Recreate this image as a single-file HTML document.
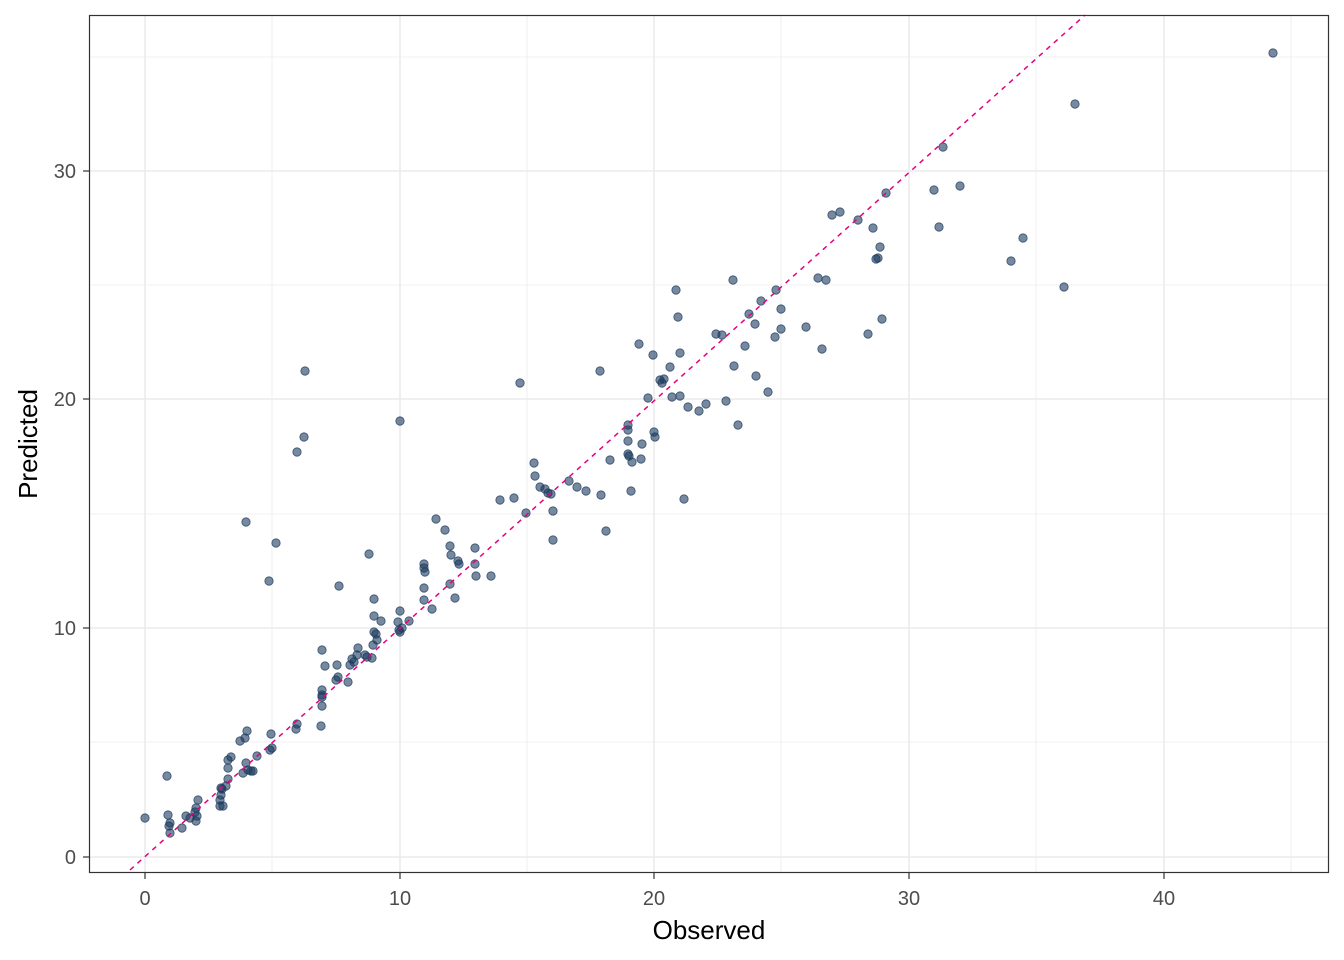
<!DOCTYPE html>
<html><head><meta charset="utf-8"><style>body{margin:0;background:#fff}svg{display:block;font-family:"Liberation Sans",sans-serif}</style></head><body>
<svg width="1344" height="960" xmlns="http://www.w3.org/2000/svg">
<rect width="1344" height="960" fill="#fff"/>
<g stroke="#ebebeb" stroke-width="0.8">
<line x1="272" x2="272" y1="15" y2="873"/><line x1="527" x2="527" y1="15" y2="873"/><line x1="781" x2="781" y1="15" y2="873"/><line x1="1036" x2="1036" y1="15" y2="873"/><line x1="1291" x2="1291" y1="15" y2="873"/>
<line x1="89" x2="1329" y1="742" y2="742"/><line x1="89" x2="1329" y1="514" y2="514"/><line x1="89" x2="1329" y1="285" y2="285"/><line x1="89" x2="1329" y1="57" y2="57"/>
</g>
<g stroke="#ebebeb" stroke-width="1.6">
<line x1="145" x2="145" y1="15" y2="873"/><line x1="400" x2="400" y1="15" y2="873"/><line x1="654" x2="654" y1="15" y2="873"/><line x1="909" x2="909" y1="15" y2="873"/><line x1="1164" x2="1164" y1="15" y2="873"/>
<line x1="89" x2="1329" y1="857" y2="857"/><line x1="89" x2="1329" y1="628" y2="628"/><line x1="89" x2="1329" y1="399" y2="399"/><line x1="89" x2="1329" y1="171" y2="171"/>
</g>
<g fill="#1b3a5e" fill-opacity="0.6" stroke="#1b3a5e" stroke-opacity="0.8" stroke-width="0.8">
<circle cx="145" cy="818" r="4.2"/><circle cx="167" cy="776" r="4.2"/><circle cx="168" cy="815" r="4.2"/><circle cx="170" cy="823" r="4.2"/><circle cx="170" cy="833" r="4.2"/><circle cx="169" cy="826" r="4.2"/><circle cx="182" cy="828" r="4.2"/><circle cx="186" cy="816" r="4.2"/><circle cx="190" cy="818" r="4.2"/><circle cx="195" cy="812" r="4.2"/><circle cx="196" cy="821" r="4.2"/><circle cx="197" cy="816" r="4.2"/><circle cx="198" cy="800" r="4.2"/><circle cx="196" cy="808" r="4.2"/>
<circle cx="220" cy="806" r="4.2"/><circle cx="221" cy="795" r="4.2"/><circle cx="222" cy="789" r="4.2"/><circle cx="220" cy="800" r="4.2"/><circle cx="223" cy="806" r="4.2"/><circle cx="221" cy="788" r="4.2"/><circle cx="226" cy="786" r="4.2"/><circle cx="228" cy="760" r="4.2"/><circle cx="228" cy="768" r="4.2"/><circle cx="228" cy="779" r="4.2"/><circle cx="231" cy="757" r="4.2"/><circle cx="240" cy="741" r="4.2"/><circle cx="245" cy="738" r="4.2"/><circle cx="247" cy="731" r="4.2"/><circle cx="246" cy="763" r="4.2"/><circle cx="243" cy="773" r="4.2"/><circle cx="248" cy="770" r="4.2"/><circle cx="251" cy="771" r="4.2"/><circle cx="253" cy="771" r="4.2"/><circle cx="257" cy="756" r="4.2"/><circle cx="271" cy="734" r="4.2"/><circle cx="270" cy="750" r="4.2"/><circle cx="272" cy="748" r="4.2"/><circle cx="246" cy="522" r="4.2"/><circle cx="269" cy="581" r="4.2"/><circle cx="276" cy="543" r="4.2"/><circle cx="297" cy="724" r="4.2"/><circle cx="296" cy="729" r="4.2"/><circle cx="297" cy="452" r="4.2"/><circle cx="304" cy="437" r="4.2"/><circle cx="305" cy="371" r="4.2"/>
<circle cx="322" cy="650" r="4.2"/><circle cx="322" cy="690" r="4.2"/><circle cx="322" cy="695" r="4.2"/><circle cx="322" cy="697" r="4.2"/><circle cx="322" cy="706" r="4.2"/><circle cx="321" cy="726" r="4.2"/><circle cx="325" cy="666" r="4.2"/><circle cx="337" cy="665" r="4.2"/><circle cx="336" cy="680" r="4.2"/><circle cx="338" cy="677" r="4.2"/><circle cx="339" cy="586" r="4.2"/><circle cx="348" cy="682" r="4.2"/><circle cx="350" cy="665" r="4.2"/><circle cx="352" cy="659" r="4.2"/><circle cx="354" cy="662" r="4.2"/><circle cx="357" cy="655" r="4.2"/><circle cx="358" cy="648" r="4.2"/><circle cx="365" cy="655" r="4.2"/><circle cx="369" cy="554" r="4.2"/><circle cx="367" cy="657" r="4.2"/><circle cx="372" cy="658" r="4.2"/><circle cx="373" cy="645" r="4.2"/><circle cx="374" cy="632" r="4.2"/><circle cx="374" cy="599" r="4.2"/><circle cx="374" cy="616" r="4.2"/><circle cx="376" cy="634" r="4.2"/><circle cx="377" cy="640" r="4.2"/><circle cx="381" cy="621" r="4.2"/><circle cx="398" cy="622" r="4.2"/><circle cx="399" cy="630" r="4.2"/><circle cx="400" cy="632" r="4.2"/><circle cx="402" cy="628" r="4.2"/><circle cx="400" cy="611" r="4.2"/><circle cx="400" cy="421" r="4.2"/><circle cx="409" cy="621" r="4.2"/><circle cx="424" cy="600" r="4.2"/><circle cx="424" cy="588" r="4.2"/><circle cx="425" cy="572" r="4.2"/><circle cx="424" cy="564" r="4.2"/><circle cx="424" cy="568" r="4.2"/><circle cx="432" cy="609" r="4.2"/><circle cx="436" cy="519" r="4.2"/><circle cx="445" cy="530" r="4.2"/><circle cx="450" cy="546" r="4.2"/><circle cx="451" cy="555" r="4.2"/><circle cx="450" cy="584" r="4.2"/><circle cx="455" cy="598" r="4.2"/><circle cx="458" cy="561" r="4.2"/><circle cx="459" cy="564" r="4.2"/><circle cx="475" cy="548" r="4.2"/><circle cx="475" cy="564" r="4.2"/><circle cx="476" cy="576" r="4.2"/><circle cx="491" cy="576" r="4.2"/><circle cx="500" cy="500" r="4.2"/><circle cx="514" cy="498" r="4.2"/><circle cx="520" cy="383" r="4.2"/><circle cx="526" cy="513" r="4.2"/><circle cx="534" cy="463" r="4.2"/><circle cx="535" cy="476" r="4.2"/><circle cx="540" cy="487" r="4.2"/><circle cx="545" cy="489" r="4.2"/><circle cx="548" cy="493" r="4.2"/><circle cx="551" cy="494" r="4.2"/><circle cx="553" cy="540" r="4.2"/><circle cx="553" cy="511" r="4.2"/><circle cx="569" cy="481" r="4.2"/><circle cx="577" cy="487" r="4.2"/><circle cx="586" cy="491" r="4.2"/><circle cx="600" cy="371" r="4.2"/><circle cx="601" cy="495" r="4.2"/><circle cx="606" cy="531" r="4.2"/><circle cx="610" cy="460" r="4.2"/><circle cx="628" cy="454" r="4.2"/><circle cx="628" cy="425" r="4.2"/><circle cx="628" cy="430" r="4.2"/><circle cx="628" cy="441" r="4.2"/><circle cx="629" cy="456" r="4.2"/><circle cx="632" cy="462" r="4.2"/><circle cx="631" cy="491" r="4.2"/><circle cx="639" cy="344" r="4.2"/><circle cx="641" cy="459" r="4.2"/><circle cx="642" cy="444" r="4.2"/><circle cx="648" cy="398" r="4.2"/><circle cx="653" cy="355" r="4.2"/><circle cx="654" cy="432" r="4.2"/><circle cx="655" cy="437" r="4.2"/><circle cx="660" cy="380" r="4.2"/><circle cx="662" cy="383" r="4.2"/><circle cx="664" cy="379" r="4.2"/><circle cx="670" cy="367" r="4.2"/><circle cx="672" cy="397" r="4.2"/><circle cx="676" cy="290" r="4.2"/><circle cx="678" cy="317" r="4.2"/><circle cx="680" cy="353" r="4.2"/><circle cx="680" cy="396" r="4.2"/><circle cx="684" cy="499" r="4.2"/><circle cx="688" cy="407" r="4.2"/><circle cx="699" cy="411" r="4.2"/><circle cx="706" cy="404" r="4.2"/><circle cx="716" cy="334" r="4.2"/><circle cx="722" cy="335" r="4.2"/><circle cx="726" cy="401" r="4.2"/><circle cx="733" cy="280" r="4.2"/><circle cx="734" cy="366" r="4.2"/><circle cx="738" cy="425" r="4.2"/><circle cx="745" cy="346" r="4.2"/><circle cx="749" cy="314" r="4.2"/><circle cx="755" cy="324" r="4.2"/><circle cx="756" cy="376" r="4.2"/><circle cx="761" cy="301" r="4.2"/><circle cx="768" cy="392" r="4.2"/><circle cx="775" cy="337" r="4.2"/><circle cx="776" cy="290" r="4.2"/><circle cx="781" cy="309" r="4.2"/><circle cx="781" cy="329" r="4.2"/><circle cx="806" cy="327" r="4.2"/><circle cx="818" cy="278" r="4.2"/><circle cx="822" cy="349" r="4.2"/><circle cx="826" cy="280" r="4.2"/><circle cx="832" cy="215" r="4.2"/><circle cx="840" cy="212" r="4.2"/><circle cx="858" cy="220" r="4.2"/><circle cx="868" cy="334" r="4.2"/><circle cx="873" cy="228" r="4.2"/><circle cx="876" cy="259" r="4.2"/><circle cx="878" cy="258" r="4.2"/><circle cx="880" cy="247" r="4.2"/><circle cx="882" cy="319" r="4.2"/><circle cx="886" cy="193" r="4.2"/><circle cx="934" cy="190" r="4.2"/><circle cx="939" cy="227" r="4.2"/><circle cx="943" cy="147" r="4.2"/><circle cx="960" cy="186" r="4.2"/><circle cx="1011" cy="261" r="4.2"/><circle cx="1023" cy="238" r="4.2"/><circle cx="1064" cy="287" r="4.2"/><circle cx="1075" cy="104" r="4.2"/><circle cx="1273" cy="53" r="4.2"/>
</g>
<line x1="130" y1="870" x2="1085" y2="15" stroke="#e6007e" stroke-width="1.5" stroke-dasharray="5,5"/>
<rect x="89.5" y="15.5" width="1239" height="857" fill="none" stroke="#333" stroke-width="1.2"/>
<g stroke="#333" stroke-width="1.2">
<line x1="145" x2="145" y1="873" y2="879"/><line x1="400" x2="400" y1="873" y2="879"/><line x1="654" x2="654" y1="873" y2="879"/><line x1="909" x2="909" y1="873" y2="879"/><line x1="1164" x2="1164" y1="873" y2="879"/>
<line x1="83" x2="89" y1="857" y2="857"/><line x1="83" x2="89" y1="628" y2="628"/><line x1="83" x2="89" y1="399" y2="399"/><line x1="83" x2="89" y1="171" y2="171"/>
</g>
<g fill="#4d4d4d" font-size="20" text-anchor="middle">
<text x="145" y="905">0</text><text x="400" y="905">10</text><text x="654" y="905">20</text><text x="909" y="905">30</text><text x="1164" y="905">40</text>
</g>
<g fill="#4d4d4d" font-size="20" text-anchor="end">
<text x="76" y="864">0</text><text x="76" y="635">10</text><text x="76" y="406">20</text><text x="76" y="178">30</text>
</g>
<text x="709" y="939" font-size="26" text-anchor="middle" fill="#000">Observed</text>
<text transform="translate(37,444) rotate(-90)" font-size="26" text-anchor="middle" fill="#000">Predicted</text>
</svg>
</body></html>
